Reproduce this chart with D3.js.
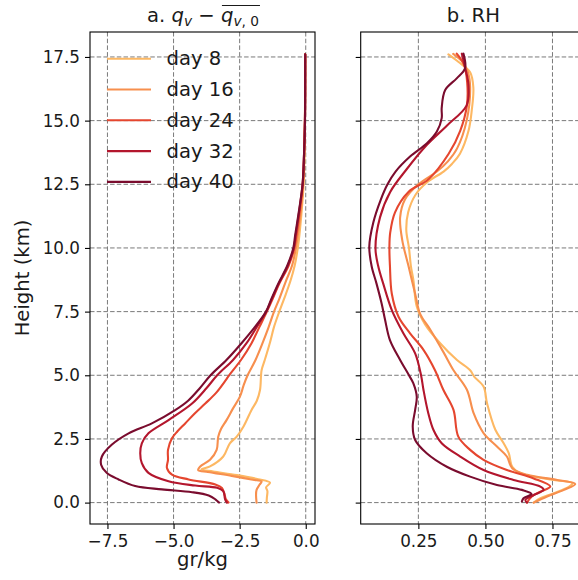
<!DOCTYPE html>
<html><head><meta charset="utf-8">
<script src="https://cdn.jsdelivr.net/npm/d3@7"></script>
<style>body{margin:0;background:#fff} text{font-family:"DejaVu Sans",sans-serif;fill:#1a1a1a}</style>
</head><body><svg id="c" width="578" height="580"></svg>
<script>
// ---------------- DATA ----------------
const days = ["day 8", "day 16", "day 24", "day 32", "day 40"];
const dayColors = ["#fdb863", "#f78f4e", "#e5462f", "#b3162d", "#7a0c2e"];

const yTicks = [0, 2.5, 5, 7.5, 10, 12.5, 15, 17.5];
const yTickLabels = ["0.0", "2.5", "5.0", "7.5", "10.0", "12.5", "15.0", "17.5"];
const xTicksA = [-7.5, -5, -2.5, 0];
const xTickLabelsA = ["\u22127.5", "\u22125.0", "\u22122.5", "0.0"];
const xTicksB = [0.25, 0.5, 0.75];
const xTickLabelsB = ["0.25", "0.50", "0.75"];

// panel a: [height km, qv anomaly gr/kg]
const qvDay8 = [[17.6,-0.02],[15,-0.03],[13.5,-0.05],[12.5,-0.08],[11.5,-0.15],[10.5,-0.24],[10.0,-0.3],[9.3,-0.42],[8.7,-0.58],[8.0,-0.82],[7.5,-1.0],[6.9,-1.2],[6.3,-1.35],[5.6,-1.55],[5.2,-1.67],[4.42,-1.73],[4.0,-1.85],[3.64,-2.05],[2.98,-2.36],[2.59,-2.61],[2.33,-2.87],[1.81,-3.12],[1.42,-3.62],[1.3,-3.95],[1.22,-3.5],[1.08,-2.6],[0.92,-1.8],[0.78,-1.35],[0.6,-1.5],[0.45,-1.45],[0.2,-1.47],[0,-1.48]];
const qvDay16 = [[17.6,-0.02],[15,-0.03],[13.5,-0.06],[12.5,-0.10],[11.5,-0.18],[10.5,-0.30],[10.0,-0.37],[9.3,-0.52],[8.7,-0.75],[8.0,-1.0],[7.5,-1.2],[6.9,-1.4],[6.3,-1.62],[5.6,-1.9],[5.0,-2.2],[4.6,-2.35],[4.16,-2.49],[3.7,-2.75],[3.25,-2.99],[2.9,-3.2],[2.59,-3.31],[2.07,-3.37],[1.68,-3.62],[1.41,-4.0],[1.28,-4.07],[1.2,-3.7],[1.05,-2.8],[0.9,-2.0],[0.83,-1.67],[0.7,-1.75],[0.5,-1.86],[0.3,-1.88],[0,-1.86]];
const qvDay24 = [[17.6,-0.02],[15,-0.03],[13.5,-0.07],[12.5,-0.11],[11.5,-0.22],[10.5,-0.35],[10.0,-0.43],[9.3,-0.65],[8.6,-1.0],[8.0,-1.25],[7.5,-1.47],[6.9,-1.75],[6.26,-2.05],[5.6,-2.45],[5.0,-2.9],[4.79,-3.04],[4.3,-3.4],[3.89,-3.80],[3.5,-4.2],[3.11,-4.56],[2.8,-4.85],[2.53,-5.06],[2.07,-5.21],[1.68,-5.21],[1.36,-5.25],[1.10,-5.06],[0.91,-4.43],[0.71,-3.42],[0.58,-3.17],[0.32,-3.07],[0.13,-3.02],[0,-2.92]];
const qvDay32 = [[17.6,-0.02],[15,-0.03],[13.5,-0.07],[12.5,-0.12],[11.5,-0.24],[10.5,-0.38],[10.0,-0.45],[9.3,-0.68],[8.6,-1.02],[8.0,-1.28],[7.5,-1.5],[6.9,-1.85],[6.26,-2.24],[5.6,-2.75],[5.0,-3.35],[4.5,-3.75],[3.89,-4.30],[3.24,-5.19],[2.72,-5.95],[2.33,-6.20],[1.94,-6.26],[1.55,-6.20],[1.17,-5.95],[0.84,-5.19],[0.67,-4.18],[0.58,-3.35],[0.45,-3.12],[0.13,-3.05],[0,-2.98]];
const qvDay40 = [[17.6,-0.02],[15,-0.03],[13.5,-0.07],[12.5,-0.12],[11.5,-0.25],[10.5,-0.40],[10.0,-0.47],[9.3,-0.7],[8.6,-1.04],[8.0,-1.3],[7.5,-1.5],[6.9,-1.92],[6.26,-2.43],[5.6,-3.0],[5.0,-3.6],[4.5,-4.0],[4.0,-4.45],[3.63,-4.94],[3.11,-5.82],[2.72,-6.70],[2.27,-7.34],[1.81,-7.71],[1.49,-7.74],[1.17,-7.53],[0.91,-7.08],[0.65,-6.45],[0.52,-5.44],[0.41,-4.30],[0.28,-3.67],[0.13,-3.42],[0,-3.28]];

// panel b: [height km, relative humidity]
const rhDay8 = [[17.6,0.362],[17.3,0.40],[16.9,0.443],[16.3,0.455],[15.4,0.449],[14.6,0.437],[13.7,0.405],[13.3,0.375],[13.0,0.344],[12.6,0.285],[12.1,0.240],[11.4,0.212],[10.7,0.205],[10.0,0.215],[9.3,0.222],[8.7,0.232],[7.7,0.244],[7.0,0.275],[6.25,0.332],[5.6,0.394],[5.2,0.443],[4.95,0.458],[4.56,0.493],[3.9,0.506],[2.86,0.537],[2.33,0.568],[1.94,0.587],[1.41,0.600],[1.15,0.631],[0.89,0.755],[0.76,0.825],[0.63,0.812],[0.37,0.755],[0.17,0.705],[0.0,0.680]];
const rhDay16 = [[17.62,0.380],[17.3,0.415],[16.9,0.435],[16.3,0.443],[15.0,0.430],[13.9,0.394],[13.4,0.36],[13.0,0.319],[12.5,0.25],[11.9,0.20],[11.2,0.182],[10.3,0.190],[9.3,0.213],[8.2,0.238],[7.4,0.257],[6.8,0.294],[5.9,0.344],[5.2,0.381],[4.43,0.431],[3.51,0.456],[2.73,0.493],[2.20,0.543],[1.81,0.580],[1.35,0.600],[1.09,0.656],[0.89,0.768],[0.73,0.835],[0.50,0.793],[0.24,0.730],[0.0,0.680]];
const rhDay24 = [[17.63,0.393],[17.2,0.42],[16.5,0.432],[15.6,0.431],[14.6,0.406],[13.7,0.363],[12.7,0.288],[12.2,0.213],[11.4,0.163],[10.6,0.145],[10.0,0.142],[9.3,0.144],[8.2,0.151],[7.3,0.176],[6.65,0.219],[6.0,0.269],[5.2,0.312],[4.43,0.343],[3.64,0.381],[2.59,0.399],[2.07,0.443],[1.68,0.493],[1.28,0.580],[0.95,0.680],[0.63,0.742],[0.43,0.705],[0.24,0.673],[0.0,0.655]];
const rhDay32 = [[17.63,0.412],[17.1,0.424],[16.4,0.437],[15.6,0.430],[14.8,0.356],[14.05,0.282],[13.1,0.207],[12.2,0.145],[11.2,0.107],[10.0,0.090],[9.3,0.100],[8.6,0.119],[7.56,0.151],[6.65,0.194],[5.86,0.238],[5.0,0.260],[4.43,0.269],[3.51,0.287],[2.86,0.306],[2.33,0.337],[1.81,0.406],[1.28,0.493],[0.89,0.605],[0.63,0.705],[0.50,0.717],[0.30,0.680],[0.11,0.649],[0.0,0.655]];
const rhDay40 = [[17.63,0.418],[17.05,0.424],[16.66,0.393],[16.2,0.350],[15.5,0.337],[15.1,0.337],[14.57,0.319],[14.11,0.282],[13.59,0.219],[13.0,0.165],[12.5,0.135],[11.9,0.110],[11.0,0.082],[10.05,0.067],[9.27,0.076],[8.6,0.094],[7.82,0.113],[7.17,0.126],[6.38,0.144],[5.6,0.182],[5.0,0.215],[4.69,0.231],[4.16,0.244],[3.64,0.238],[2.99,0.229],[2.46,0.238],[1.94,0.281],[1.41,0.356],[1.02,0.443],[0.69,0.543],[0.5,0.636],[0.34,0.672],[0.17,0.642],[0.04,0.636]];

const qvSeries = [qvDay8, qvDay16, qvDay24, qvDay32, qvDay40];
const rhSeries = [rhDay8, rhDay16, rhDay24, rhDay32, rhDay40];

// ---------------- LAYOUT ----------------
const svg = d3.select("#c");
const plotTop = 32, plotBottom = 524;
const A = {l: 90, r: 315}, B = {l: 360.7, r: 586};
const y = d3.scaleLinear().domain([-0.84, 18.48]).range([plotBottom, plotTop]);
const xA = d3.scaleLinear().domain([-8.16, 0.35]).range([A.l, A.r]);
const xB = d3.scaleLinear().domain([0.035, 0.875]).range([B.l, B.r]);
const FONT_TICK = 16.8, FONT_LAB = 19.6;

function panel(id, P, x, xTicks, xLabels, series, showYLabels) {
  const g = svg.append("g");
  const cp = svg.append("clipPath").attr("id", "clip" + id);
  cp.append("rect").attr("x", P.l).attr("y", plotTop).attr("width", P.r - P.l).attr("height", plotBottom - plotTop);
  g.append("g").selectAll("line").data(xTicks).join("line")
    .attr("x1", d => x(d)).attr("x2", d => x(d)).attr("y1", plotTop).attr("y2", plotBottom)
    .attr("stroke", "#7a7a7a").attr("stroke-width", 1).attr("stroke-dasharray", "4.5,2.2");
  g.append("g").selectAll("line").data(yTicks).join("line")
    .attr("x1", P.l).attr("x2", P.r).attr("y1", d => y(d)).attr("y2", d => y(d))
    .attr("stroke", "#7a7a7a").attr("stroke-width", 1).attr("stroke-dasharray", "4.5,2.2");
  const line = d3.line().x(d => x(d[1])).y(d => y(d[0])).curve(d3.curveCatmullRom.alpha(0.5));
  g.append("g").attr("clip-path", `url(#clip${id})`).selectAll("path").data(series).join("path")
    .attr("d", line).attr("fill", "none").attr("stroke", (d, i) => dayColors[i])
    .attr("stroke-width", 2.1).attr("stroke-linejoin", "round").attr("stroke-linecap", "round");
  g.append("rect").attr("x", P.l).attr("y", plotTop).attr("width", P.r - P.l).attr("height", plotBottom - plotTop)
    .attr("fill", "none").attr("stroke", "#000").attr("stroke-width", 1.1);
  const ax = g.append("g").attr("transform", `translate(0,${plotBottom})`)
    .call(d3.axisBottom(x).tickValues(xTicks).tickFormat((d, i) => xLabels[i]).tickSize(5).tickPadding(6));
  const ay = g.append("g").attr("transform", `translate(${P.l},0)`)
    .call(d3.axisLeft(y).tickValues(yTicks).tickFormat((d, i) => showYLabels ? yTickLabels[i] : "").tickSize(5).tickPadding(5));
  [ax, ay].forEach(a => {
    a.select(".domain").remove();
    a.selectAll("line").attr("stroke", "#000").attr("stroke-width", 1.1);
    a.selectAll("text").attr("font-size", FONT_TICK).attr("font-family", "DejaVu Sans").attr("fill", "#1a1a1a");
  });
  return g;
}

panel("a", A, xA, xTicksA, xTickLabelsA, qvSeries, true);
panel("b", B, xB, xTicksB, xTickLabelsB, rhSeries, false);

// legend
const leg = svg.append("g");
days.forEach((d, i) => {
  const yy = 58.7 + i * 30.8;
  leg.append("line").attr("x1", 107).attr("x2", 151).attr("y1", yy).attr("y2", yy)
    .attr("stroke", dayColors[i]).attr("stroke-width", 2.1);
  leg.append("text").attr("x", 166.5).attr("y", yy).attr("dominant-baseline", "central")
    .attr("font-size", FONT_LAB).text(d);
});

// axis labels
svg.append("text").attr("x", (A.l + A.r) / 2).attr("y", 566).attr("text-anchor", "middle")
  .attr("font-size", FONT_LAB).text("gr/kg");
svg.append("text").attr("transform", `translate(29,${(plotTop + plotBottom) / 2}) rotate(-90)`)
  .attr("text-anchor", "middle").attr("font-size", FONT_LAB).text("Height (km)");

// titles
svg.append("text").attr("x", (B.l + B.r) / 2).attr("y", 22).attr("text-anchor", "middle")
  .attr("font-size", FONT_LAB).text("b. RH");

const tg = svg.append("g");
const pieces = [
  {t: "a. ", it: false, s: 1, dy: 0},
  {t: "q", it: true, s: 1, dy: 0},
  {t: "v", it: true, s: 0.7, dy: 3.5},
  {t: " \u2212 ", it: false, s: 1, dy: 0},
  {t: "q", it: true, s: 1, dy: 0, ob: true},
  {t: "v", it: true, s: 0.7, dy: 3.5, ob: true},
  {t: ",", it: false, s: 0.7, dy: 3.5, ob: true},
  {t: " 0", it: false, s: 0.7, dy: 3.5, ob: true}
];
let cx = 0, obStart = null, obEnd = null;
pieces.forEach(p => {
  const t = tg.append("text").attr("x", cx).attr("y", 22 + p.dy)
    .attr("font-size", FONT_LAB * p.s).attr("font-style", p.it ? "italic" : "normal")
    .style("white-space", "pre").text(p.t);
  const w = t.node().getComputedTextLength();
  if (p.ob) { if (obStart === null) obStart = cx; obEnd = cx + w; }
  cx += w;
});
tg.append("line").attr("x1", obStart + 1).attr("x2", obEnd + 1).attr("y1", 5.5).attr("y2", 5.5)
  .attr("stroke", "#1a1a1a").attr("stroke-width", 1.1);
tg.attr("transform", `translate(${203 - cx / 2},0)`);
</script></body></html>
